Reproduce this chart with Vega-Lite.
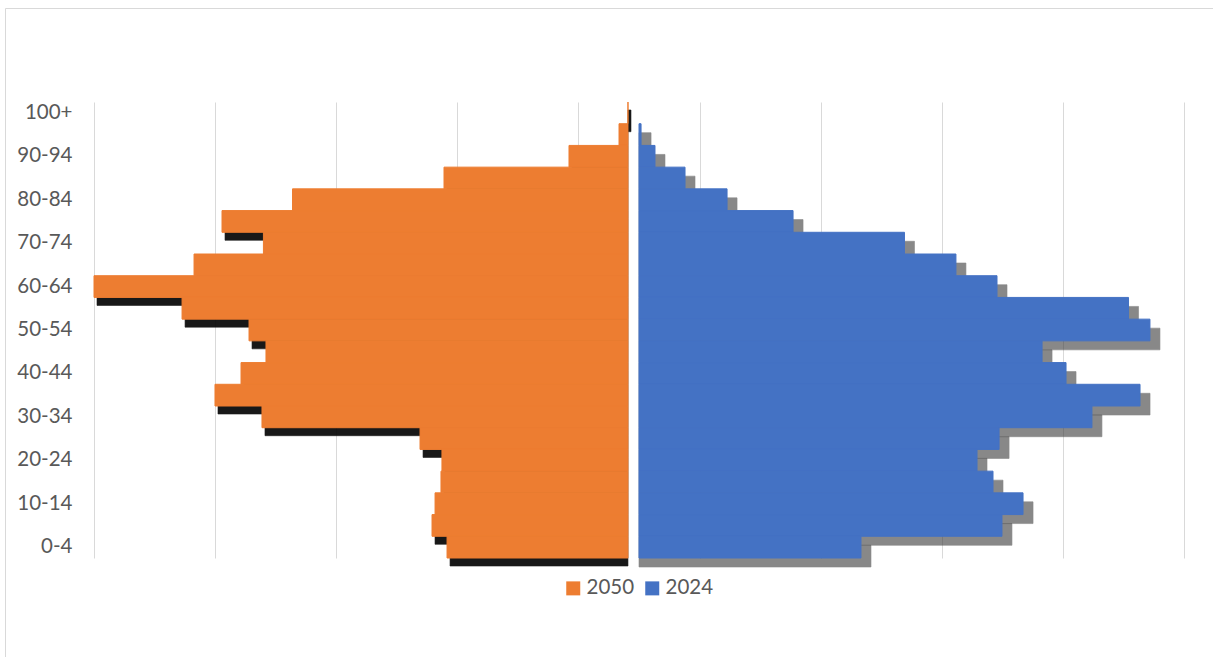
{
  "$schema": "https://vega.github.io/schema/vega-lite/v6.json",
  "autosize": {"type": "none"},
  "padding": {"left": 94, "top": 102, "right": 29, "bottom": 99},
  "width": 1090,
  "height": 456,
  "background": "white",
  "config": {
    "view": {"stroke": null},
    "font": "Lato"
  },
  "data": {
    "values": [
      {"age": "100+", "y2050": -0.091, "y2024": null},
      {"age": "95-99", "y2050": -0.165, "y2024": 0.017},
      {"age": "90-94", "y2050": -0.578, "y2024": 0.132},
      {"age": "85-89", "y2050": -1.61, "y2024": 0.38},
      {"age": "80-84", "y2050": -2.861, "y2024": 0.727},
      {"age": "75-79", "y2050": -3.443, "y2024": 1.272},
      {"age": "70-74", "y2050": -3.101, "y2024": 2.192},
      {"age": "65-69", "y2050": -3.674, "y2024": 2.617},
      {"age": "60-64", "y2050": -4.5, "y2024": 2.956},
      {"age": "55-59", "y2050": -3.773, "y2024": 4.042},
      {"age": "50-54", "y2050": -3.22, "y2024": 4.219},
      {"age": "45-49", "y2050": -3.08, "y2024": 3.328},
      {"age": "40-44", "y2050": -3.286, "y2024": 3.526},
      {"age": "35-39", "y2050": -3.501, "y2024": 4.137},
      {"age": "30-34", "y2050": -3.113, "y2024": 3.74},
      {"age": "25-29", "y2050": -1.808, "y2024": 2.973},
      {"age": "20-24", "y2050": -1.627, "y2024": 2.791},
      {"age": "15-19", "y2050": -1.635, "y2024": 2.923},
      {"age": "10-14", "y2050": -1.684, "y2024": 3.171},
      {"age": "5-9", "y2050": -1.709, "y2024": 2.997},
      {"age": "0-4", "y2050": -1.585, "y2024": 1.833}
    ]
  },
  "encoding": {
    "y": {
      "field": "age",
      "type": "nominal",
      "sort": null,
      "title": null,
      "scale": {
        "domain": ["100+", "95-99", "90-94", "85-89", "80-84", "75-79", "70-74", "65-69", "60-64", "55-59", "50-54", "45-49", "40-44", "35-39", "30-34", "25-29", "20-24", "15-19", "10-14", "5-9", "0-4"],
        "paddingInner": 0,
        "paddingOuter": 0
      },
      "axis": {
        "values": ["100+", "90-94", "80-84", "70-74", "60-64", "50-54", "40-44", "30-34", "20-24", "10-14", "0-4"],
        "ticks": false,
        "tickSize": 0,
        "domain": false,
        "grid": false,
        "labelPadding": 22,
        "labelFont": "Lato",
        "labelFontSize": 20.5,
        "labelColor": "#595959"
      }
    }
  },
  "layer": [
    {
      "mark": {"type": "bar", "color": "#3a3a3a", "stroke": "#3a3a3a", "strokeWidth": 0.6, "opacity": 0.6, "xOffset": 10, "yOffset": 9},
      "encoding": {
        "x": {
          "field": "y2024",
          "type": "quantitative",
          "title": null,
          "scale": {"domain": [-4.5, 4.5], "nice": false, "zero": false},
          "axis": {
            "values": [-4.5, -3.5, -2.5, -1.5, -0.5, 0.5, 1.5, 2.5, 3.5, 4.5],
            "labels": false,
            "ticks": false,
            "domain": false,
            "grid": true,
            "gridColor": "#d9d9d9",
            "gridWidth": 1
          }
        },
        "x2": {"datum": 0}
      }
    },
    {
      "mark": {"type": "bar", "color": "#000000", "stroke": "#000000", "strokeWidth": 0.6, "opacity": 0.9, "xOffset": 3, "yOffset": 8},
      "encoding": {
        "x": {"field": "y2050", "type": "quantitative"},
        "x2": {"datum": -0.091}
      }
    },
    {
      "mark": {"type": "bar", "stroke": "#ED7D31", "strokeWidth": 1},
      "encoding": {
        "x": {"field": "y2050", "type": "quantitative"},
        "x2": {"datum": -0.091},
        "color": {
          "datum": "2050",
          "type": "nominal",
          "scale": {"domain": ["2050", "2024"], "range": ["#ED7D31", "#4472C4"]},
          "legend": {
            "orient": "none",
            "legendX": -89,
            "legendY": -94,
            "direction": "horizontal",
            "title": " ",
            "titleFontSize": 10,
            "titlePadding": 2,
            "padding": 558,
            "strokeColor": "#d9d9d9",
            "symbolType": "square",
            "symbolSize": 196,
            "symbolStrokeWidth": 0,
            "symbolOpacity": 1,
            "labelFont": "Lato",
            "labelFontSize": 20.5,
            "labelColor": "#595959",
            "labelOffset": 3,
            "columnPadding": 7
          }
        }
      }
    },
    {
      "mark": {"type": "bar", "stroke": "#4472C4", "strokeWidth": 1},
      "encoding": {
        "x": {"field": "y2024", "type": "quantitative"},
        "x2": {"datum": 0},
        "color": {"datum": "2024", "type": "nominal"}
      }
    }
  ]
}
